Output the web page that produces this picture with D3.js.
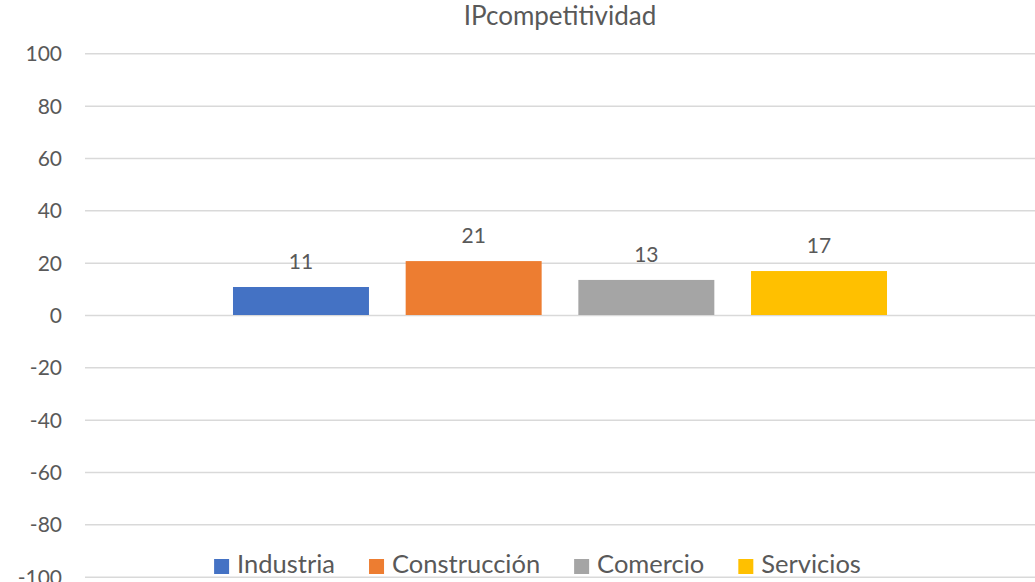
<!DOCTYPE html>
<html>
<head>
<meta charset="utf-8">
<script src="https://cdn.jsdelivr.net/npm/d3@7"></script>
<style>
  html, body { margin: 0; padding: 0; background: #ffffff; }
  svg { display: block; }
  text { font-family: Lato, "Open Sans", sans-serif; fill: #595959; }
</style>
</head>
<body>
<svg id="chart" width="1035" height="582"></svg>
<script>
const chartTitle = "IPcompetitividad";
const categories = ["Industria", "Construcción", "Comercio", "Servicios"];
const values = [10.7, 20.6, 13.4, 16.8];
const colors = ["#4472C4", "#ED7D31", "#A5A5A5", "#FFC000"];
const yTicks = [100, 80, 60, 40, 20, 0, -20, -40, -60, -80, -100];

const W = 1035, H = 582;
const plot = { left: 85, right: 1035, top: 53.3, bottom: 576.7 };

const svg = d3.select("#chart");

const y = d3.scaleLinear().domain([-100, 100]).range([plot.bottom, plot.top]);
const x = d3.scaleBand().domain(categories).range([plot.left, plot.right])
  .paddingInner(0.2125).paddingOuter(0.857);

// Gridlines + tick labels
const yAxis = d3.axisLeft(y)
  .tickValues(yTicks)
  .tickSize(-(plot.right - plot.left))
  .tickPadding(23)
  .tickFormat(d => String(d));

const gAxis = svg.append("g")
  .attr("transform", `translate(${plot.left},0)`)
  .call(yAxis);
gAxis.select(".domain").remove();
gAxis.selectAll(".tick line").attr("stroke", "#d9d9d9").attr("stroke-width", 1.5);
gAxis.selectAll(".tick text")
  .attr("fill", "#595959")
  .style("font-size", "21px")
  .attr("dy", "0.36em");

// Bars
svg.append("g").selectAll("rect")
  .data(values)
  .join("rect")
  .attr("x", (d, i) => x(categories[i]))
  .attr("width", x.bandwidth())
  .attr("y", d => y(Math.max(0, d)))
  .attr("height", d => Math.abs(y(d) - y(0)))
  .attr("fill", (d, i) => colors[i]);

// Data labels
const fmt = d3.format(".0f");
svg.append("g").selectAll("text")
  .data(values)
  .join("text")
  .attr("x", (d, i) => x(categories[i]) + x.bandwidth() / 2)
  .attr("y", d => y(d) - 18)
  .attr("text-anchor", "middle")
  .style("font-size", "21px")
  .attr("fill", "#404040")
  .text(d => fmt(d));

// Title
svg.append("text")
  .attr("x", 560)
  .attr("y", 25)
  .attr("text-anchor", "middle")
  .style("font-size", "26px")
  .text(chartTitle);

// Legend
const legend = svg.append("g");
const sq = 15, gapText = 8, gapItem = 34;
let cx = 0;
categories.forEach((c, i) => {
  const item = legend.append("g").attr("transform", `translate(${cx},0)`);
  item.append("rect").attr("x", 0).attr("y", -14).attr("width", sq).attr("height", sq).attr("fill", colors[i]);
  const t = item.append("text").attr("x", sq + gapText).attr("y", 0)
    .style("font-size", "25.5px").text(c);
  cx += sq + gapText + t.node().getComputedTextLength() + gapItem;
});
const legendWidth = cx - gapItem;
legend.attr("transform", `translate(${537.5 - legendWidth / 2},573)`);
</script>
</body>
</html>
